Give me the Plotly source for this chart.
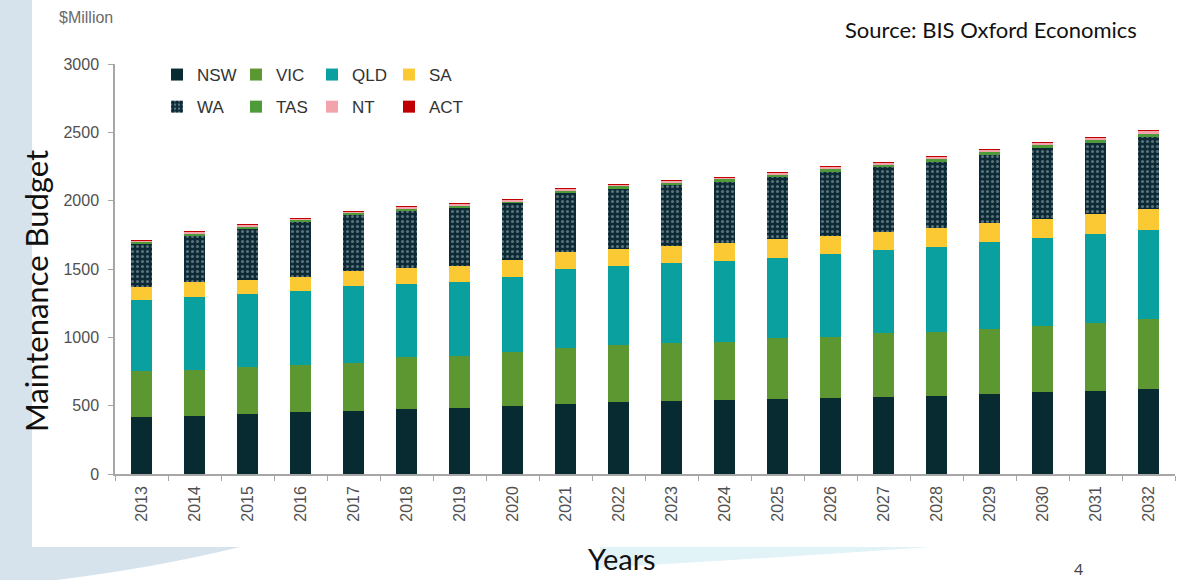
import plotly.graph_objects as go

years = [str(y) for y in range(2013, 2033)]
nsw = [419, 427, 439, 451, 461, 475, 480, 497, 514, 529, 534, 541, 549, 556, 566, 573, 585, 598, 610, 624]
vic = [334, 334, 341, 349, 349, 383, 386, 393, 410, 415, 427, 427, 448, 448, 463, 468, 473, 487, 497, 510]
qld = [520, 531, 537, 541, 565, 530, 539, 553, 573, 580, 580, 593, 585, 605, 610, 622, 637, 639, 646, 651]
sa = [93, 110, 102, 102, 110, 121, 119, 122, 127, 122, 127, 127, 135, 132, 134, 139, 143, 144, 149, 154]
wa = [322, 346, 378, 403, 410, 417, 426, 415, 431, 442, 446, 450, 453, 470, 470, 483, 496, 515, 517, 529]
tas = [12, 13, 14, 14, 15, 15, 16, 16, 17, 17, 18, 18, 19, 19, 20, 20, 21, 21, 22, 22]
nt = [10, 11, 12, 12, 13, 13, 14, 14, 15, 15, 16, 16, 17, 17, 18, 18, 19, 19, 20, 20]
act = [1, 1, 1, 1, 1, 1, 1, 1, 1, 1, 1, 1, 1, 1, 1, 1, 1, 1, 1, 1]

series = [
    ("NSW", nsw, "#072b31", None, "legend"),
    ("VIC", vic, "#5c9731", None, "legend2"),
    ("QLD", qld, "#0aa09f", None, "legend3"),
    ("SA", sa, "#fbc933", None, "legend4"),
    ("WA", wa, "#0b2a35", ".", "legend"),
    ("TAS", tas, "#4f9b3a", None, "legend2"),
    ("NT", nt, "#f2a3ab", None, "legend3"),
    ("ACT", act, "#c00000", None, "legend4"),
]

# pixel geometry of plot area
L, R, T, B = 115, 1175, 64, 474
W, H = R - L, B - T


def px(x):
    return (x - L) / W


def py(y):
    return (B - y) / H


fig = go.Figure()
for name, vals, col, pat, lg in series:
    marker = dict(color=col, line=dict(width=0))
    if pat:
        marker["pattern"] = dict(shape=pat, fgcolor="#a9bcc2", size=5, solidity=0.3)
    fig.add_trace(go.Bar(x=years, y=vals, name=name, marker=marker,
                         legend=lg, legendgroup=name))

legend_font = dict(family="Liberation Sans, Arial", size=17, color="#333333")
col_x = [157, 236, 312, 389]
for i, key in enumerate(["legend", "legend2", "legend3", "legend4"]):
    fig.update_layout({key: dict(
        x=px(col_x[i]), y=py(57), xanchor="left", yanchor="top",
        orientation="v", traceorder="grouped", tracegroupgap=7,
        font=legend_font, bgcolor="rgba(0,0,0,0)", borderwidth=0,
        itemwidth=30,
    )})

blue_path = (f"M {px(0)},{py(0)} L {px(32)},{py(0)} L {px(32)},{py(547)} "
             f"L {px(240)},{py(547)} Q {px(130)},{py(574)} {px(0)},{py(586)} Z")
cyan_path = (f"M {px(600)},{py(547)} L {px(930)},{py(547)} "
             f"Q {px(790)},{py(557)} {px(600)},{py(568)} Z")

tick_font = dict(family="Liberation Sans, Arial", size=16, color="#505050")

fig.update_layout(
    width=1190, height=580,
    margin=dict(l=L, r=1190 - R, t=T, b=580 - B),
    paper_bgcolor="white", plot_bgcolor="rgba(0,0,0,0)",
    barmode="stack", bargap=0.62,
    showlegend=True,
    xaxis=dict(
        type="category", range=[-0.5, 19.5],
        showline=True, linecolor="#a6a6a6", linewidth=1.5,
        ticks="outside", ticklen=5, tickcolor="#a6a6a6", tickson="boundaries",
        tickangle=-90, showgrid=False, ticklabelstandoff=4,
        tickfont=tick_font,
    ),
    yaxis=dict(
        range=[0, 3000], tickvals=[0, 500, 1000, 1500, 2000, 2500, 3000],
        showline=True, linecolor="#a6a6a6", linewidth=1.5,
        ticks="outside", ticklen=5, tickcolor="#a6a6a6", showgrid=False,
        zeroline=False, ticklabelstandoff=6,
        tickfont=tick_font,
    ),
    shapes=[
        dict(type="path", path=blue_path, xref="paper", yref="paper",
             fillcolor="#d7e3ec", line=dict(width=0), layer="below"),
        dict(type="path", path=cyan_path, xref="paper", yref="paper",
             fillcolor="#e2f3f8", line=dict(width=0), layer="below"),
    ],
    annotations=[
        dict(text="$Million", x=px(57), y=py(18), xref="paper", yref="paper",
             xanchor="left", yanchor="middle", showarrow=False,
             font=dict(family="Liberation Sans, Arial", size=16, color="#6a6a6a")),
        dict(text="Source: BIS Oxford Economics", x=px(843), y=py(30),
             xref="paper", yref="paper", xanchor="left", yanchor="middle",
             showarrow=False, font=dict(family="Lato", size=22, color="#111111")),
        dict(text="Maintenance Budget", x=px(36), y=py(291), xref="paper",
             yref="paper", xanchor="center", yanchor="middle", textangle=-90,
             showarrow=False, font=dict(family="Lato", size=31, color="#111111")),
        dict(text="Years", x=px(622), y=py(578), xref="paper", yref="paper",
             xanchor="center", yanchor="bottom", showarrow=False,
             font=dict(family="Lato", size=29, color="#111111")),
        dict(text="4", x=px(1078), y=py(568), xref="paper", yref="paper",
             xanchor="center", yanchor="middle", showarrow=False,
             font=dict(family="Lato", size=16, color="#444444")),
    ],
)

fig.write_html("out.html")
